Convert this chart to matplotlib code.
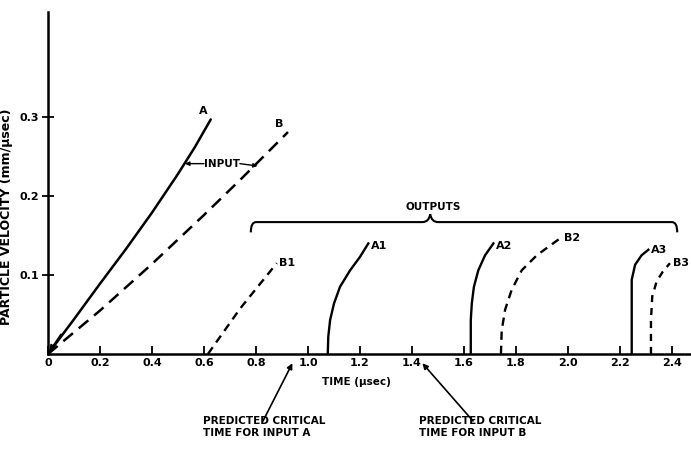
import matplotlib
matplotlib.use("Agg")
import matplotlib.pyplot as plt
from matplotlib.path import Path
from matplotlib.patches import PathPatch

plt.rcParams['font.family'] = ['Liberation Sans Narrow', 'DejaVu Sans']
plt.rcParams['font.weight'] = 'bold'

# ---- data ----
input_a_t = [0, 0.1, 0.2, 0.3, 0.4, 0.5, 0.565, 0.626]
input_a_v = [0, 0.044, 0.089, 0.133, 0.179, 0.228, 0.262, 0.297]

input_b_t = [0, 0.2, 0.4, 0.6, 0.75, 0.923]
input_b_v = [0, 0.055, 0.114, 0.176, 0.224, 0.281]

b1_t = [0.615, 0.74, 0.88]
b1_v = [0, 0.058, 0.115]

a1_t = [1.076, 1.078, 1.085, 1.10, 1.123, 1.162, 1.20, 1.232]
a1_v = [0, 0.022, 0.043, 0.064, 0.085, 0.106, 0.123, 0.14]

a2_t = [1.626, 1.626, 1.63, 1.638, 1.655, 1.681, 1.713]
a2_v = [0, 0.043, 0.064, 0.085, 0.106, 0.125, 0.14]

b2_t = [1.742, 1.745, 1.758, 1.783, 1.822, 1.88, 1.976]
b2_v = [0, 0.030, 0.056, 0.081, 0.106, 0.125, 0.148]

a3_t = [2.245, 2.245, 2.245, 2.258, 2.283, 2.309]
a3_v = [0, 0.064, 0.094, 0.113, 0.125, 0.132]

b3_t = [2.319, 2.319, 2.324, 2.341, 2.364, 2.392]
b3_v = [0, 0.043, 0.073, 0.092, 0.104, 0.115]

crit_a = 0.94
crit_b = 1.44

x_ticks = [0, 0.2, 0.4, 0.6, 0.8, 1.0, 1.2, 1.4, 1.6, 1.8, 2.0, 2.2, 2.4]
x_tick_labels = ['0', '0.2', '0.4', '0.6', '0.8', '1.0', '1.2', '1.4', '1.6', '1.8', '2.0', '2.2', '2.4']
y_ticks = [0.1, 0.2, 0.3]
y_tick_labels = ['0.1', '0.2', '0.3']

# ---- figure ----
W, H = 691, 453
fig = plt.figure(figsize=(W / 100, H / 100), dpi=100)
ax = fig.add_axes([48 / W, (H - 354) / H, (W - 48) / W, (354 - 12) / H])
ax.set_xlim(0, 2.473)
ax.set_ylim(0, 0.433)

for s in ['top', 'right']:
    ax.spines[s].set_visible(False)
for s in ['left', 'bottom']:
    ax.spines[s].set_linewidth(1.8)

ax.set_xticks(x_ticks)
ax.set_xticklabels(x_tick_labels, fontsize=8, fontweight='bold')
ax.set_yticks(y_ticks)
ax.set_yticklabels(y_tick_labels, fontsize=8, fontweight='bold')
ax.tick_params(axis='x', direction='in', length=6, width=1.3, pad=3)
ax.tick_params(axis='y', direction='inout', length=9, width=1.3, pad=2)

ax.set_xlabel('TIME (μsec)', fontsize=7.5, fontweight='bold')
ax.xaxis.set_label_coords(0.48, -0.066)
ax.set_ylabel('PARTICLE VELOCITY (mm/μsec)', fontsize=9, fontweight='bold')
ax.yaxis.set_label_coords(-0.054, 0.40)

k = 'black'
ax.plot(input_a_t, input_a_v, color=k, lw=1.8, solid_capstyle='round', solid_joinstyle='round')
ax.plot(input_b_t, input_b_v, color=k, lw=1.8, dashes=(5, 3))
ax.plot(b1_t, b1_v, color=k, lw=1.7, dashes=(3.5, 2.5))
ax.plot(a1_t, a1_v, color=k, lw=1.7, solid_joinstyle='round')
ax.plot(a2_t, a2_v, color=k, lw=1.7, solid_joinstyle='round')
ax.plot(b2_t, b2_v, color=k, lw=1.7, dashes=(3.5, 2.5))
ax.plot(a3_t, a3_v, color=k, lw=1.7, solid_joinstyle='round')
ax.plot(b3_t, b3_v, color=k, lw=1.7, dashes=(3, 2.5))

# arrow heads at origin
ax.annotate('', xy=(0.005, 0.003), xytext=(0.05, 0.025),
            arrowprops=dict(arrowstyle='-|>', color=k, lw=1.2, mutation_scale=9,
                            shrinkA=0, shrinkB=0))

lab = dict(fontsize=8, fontweight='bold', color=k)
ax.text(input_a_t[-1] - 0.045, input_a_v[-1] + 0.004, 'A', ha='left', va='bottom', **lab)
ax.text(input_b_t[-1] - 0.05, input_b_v[-1] + 0.004, 'B', ha='left', va='bottom', **lab)
ax.text(b1_t[-1] + 0.01, b1_v[-1], 'B1', ha='left', va='center', **lab)
ax.text(a1_t[-1] + 0.01, a1_v[-1] - 0.003, 'A1', ha='left', va='center', **lab)
ax.text(a2_t[-1] + 0.01, a2_v[-1] - 0.003, 'A2', ha='left', va='center', **lab)
ax.text(b2_t[-1] + 0.01, b2_v[-1] - 0.001, 'B2', ha='left', va='center', **lab)
ax.text(a3_t[-1] + 0.01, a3_v[-1], 'A3', ha='left', va='center', **lab)
ax.text(b3_t[-1] + 0.01, b3_v[-1], 'B3', ha='left', va='center', **lab)

# INPUT label with arrows
ax.text(0.668, 0.241, 'INPUT', ha='center', va='center', fontsize=7.5, fontweight='bold')
ax.annotate('', xy=(0.527, 0.241), xytext=(0.6, 0.241),
            arrowprops=dict(arrowstyle='-|>', color=k, lw=1.0, mutation_scale=6,
                            shrinkA=0, shrinkB=0))
ax.annotate('', xy=(0.806, 0.238), xytext=(0.738, 0.241),
            arrowprops=dict(arrowstyle='-|>', color=k, lw=1.0, mutation_scale=6,
                            shrinkA=0, shrinkB=0))

# OUTPUTS brace
by = 0.167
verts = [(0.78, 0.154), (0.78, by), (0.80, by),
         (1.44, by),
         (1.465, by), (1.47, by + 0.01),
         (1.475, by), (1.50, by),
         (2.40, by), (2.42, by), (2.42, 0.154)]
codes = [Path.MOVETO, Path.CURVE3, Path.CURVE3,
         Path.LINETO,
         Path.CURVE3, Path.CURVE3,
         Path.CURVE3, Path.CURVE3,
         Path.LINETO, Path.CURVE3, Path.CURVE3]
ax.add_patch(PathPatch(Path(verts, codes), fill=False, lw=1.5, ec=k, clip_on=False))
ax.text(1.48, 0.18, 'OUTPUTS', ha='center', va='bottom', fontsize=7.5, fontweight='bold')

# Predicted critical time markers
for xc, (tx, ty) in [(crit_a, (263, H - 421)), (crit_b, (473, H - 421))]:
    ax.annotate('', xy=(xc, -0.027), xycoords=('data', 'axes fraction'),
                xytext=(tx, ty), textcoords='figure pixels',
                arrowprops=dict(arrowstyle='-|>', color=k, lw=1.2, mutation_scale=8,
                                shrinkA=0, shrinkB=0), annotation_clip=False)
fig.text(203 / W, (H - 416) / H,
         'PREDICTED CRITICAL\nTIME FOR INPUT A', ha='left', va='top',
         fontsize=7.5, fontweight='bold', linespacing=1.3)
fig.text(419 / W, (H - 416) / H,
         'PREDICTED CRITICAL\nTIME FOR INPUT B', ha='left', va='top',
         fontsize=7.5, fontweight='bold', linespacing=1.3)

fig.savefig('out.png', dpi=100)
